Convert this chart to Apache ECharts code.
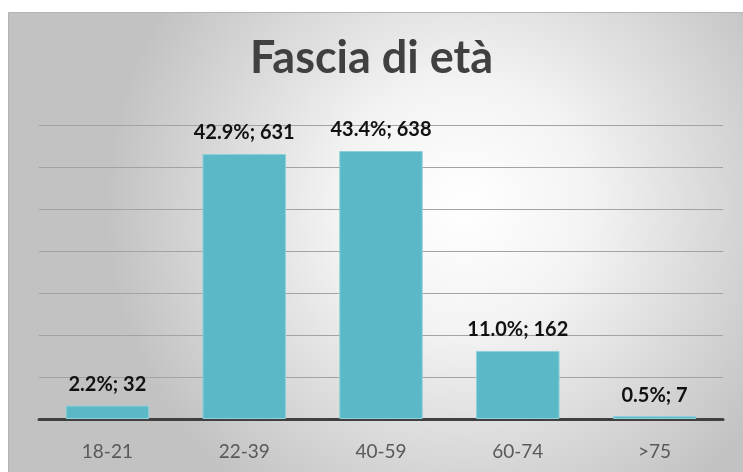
<!DOCTYPE html>
<html>
<head>
<meta charset="utf-8">
<script src="https://cdn.jsdelivr.net/npm/echarts@6/dist/echarts.min.js"></script>
<style>
  html, body { margin: 0; padding: 0; background: #fff; }
  #chart { width: 743px; height: 472px; }
</style>
</head>
<body>
<div id="chart"></div>
<script>
// fasce di età e conteggi
var categories = ['18-21', '22-39', '40-59', '60-74', '>75'];
var counts = [32, 631, 638, 162, 7];
var percents = ['2.2%', '42.9%', '43.4%', '11.0%', '0.5%'];
var yTicks = [0, 100, 200, 300, 400, 500, 600, 700];

(function () {
    var myChart = echarts.init(document.getElementById('chart'));

    var option = {
        animation: false,
        graphic: [
            {
                type: 'rect',
                left: 8,
                top: 12,
                z: -10,
                shape: { width: 735, height: 460 },
                style: {
                    fill: new echarts.graphic.RadialGradient(0.62, 0.42, 0.78, [
                        { offset: 0, color: '#ffffff' },
                        { offset: 0.35, color: '#f3f3f3' },
                        { offset: 1, color: '#c2c2c2' }
                    ]),
                    stroke: '#b4b4b4',
                    lineWidth: 1
                }
            }
        ],
        title: {
            text: 'Fascia di età',
            left: 'center',
            top: 31,
            textStyle: {
                fontFamily: 'Lato',
                fontWeight: 'bold',
                fontSize: 45,
                color: '#404040'
            }
        },
        grid: {
            left: 39,
            right: 20,
            top: 125,
            bottom: 53
        },
        xAxis: {
            type: 'category',
            data: categories,
            axisLine: { lineStyle: { color: '#404040', width: 3 } },
            axisTick: { show: false },
            axisLabel: {
                margin: 23,
                fontFamily: 'Lato',
                fontSize: 19,
                color: '#595959'
            }
        },
        yAxis: {
            type: 'value',
            min: yTicks[0],
            max: yTicks[yTicks.length - 1],
            interval: 100,
            axisLabel: { show: false },
            axisLine: { show: false },
            axisTick: { show: false },
            splitLine: { lineStyle: { color: '#a3a3a3', width: 1 } }
        },
        series: [
            {
                type: 'bar',
                data: counts,
                barWidth: '61%',
                itemStyle: {
                    color: '#5bb8c6',
                    borderColor: '#8ed0da',
                    borderWidth: 1
                },
                label: {
                    show: true,
                    position: 'top',
                    distance: 11,
                    fontFamily: 'Lato',
                    fontWeight: 'bold',
                    fontSize: 20,
                    color: '#111',
                    formatter: function (p) {
                        return percents[p.dataIndex] + '; ' + p.value;
                    }
                }
            }
        ]
    };

    myChart.setOption(option);
})();
</script>
</body>
</html>
